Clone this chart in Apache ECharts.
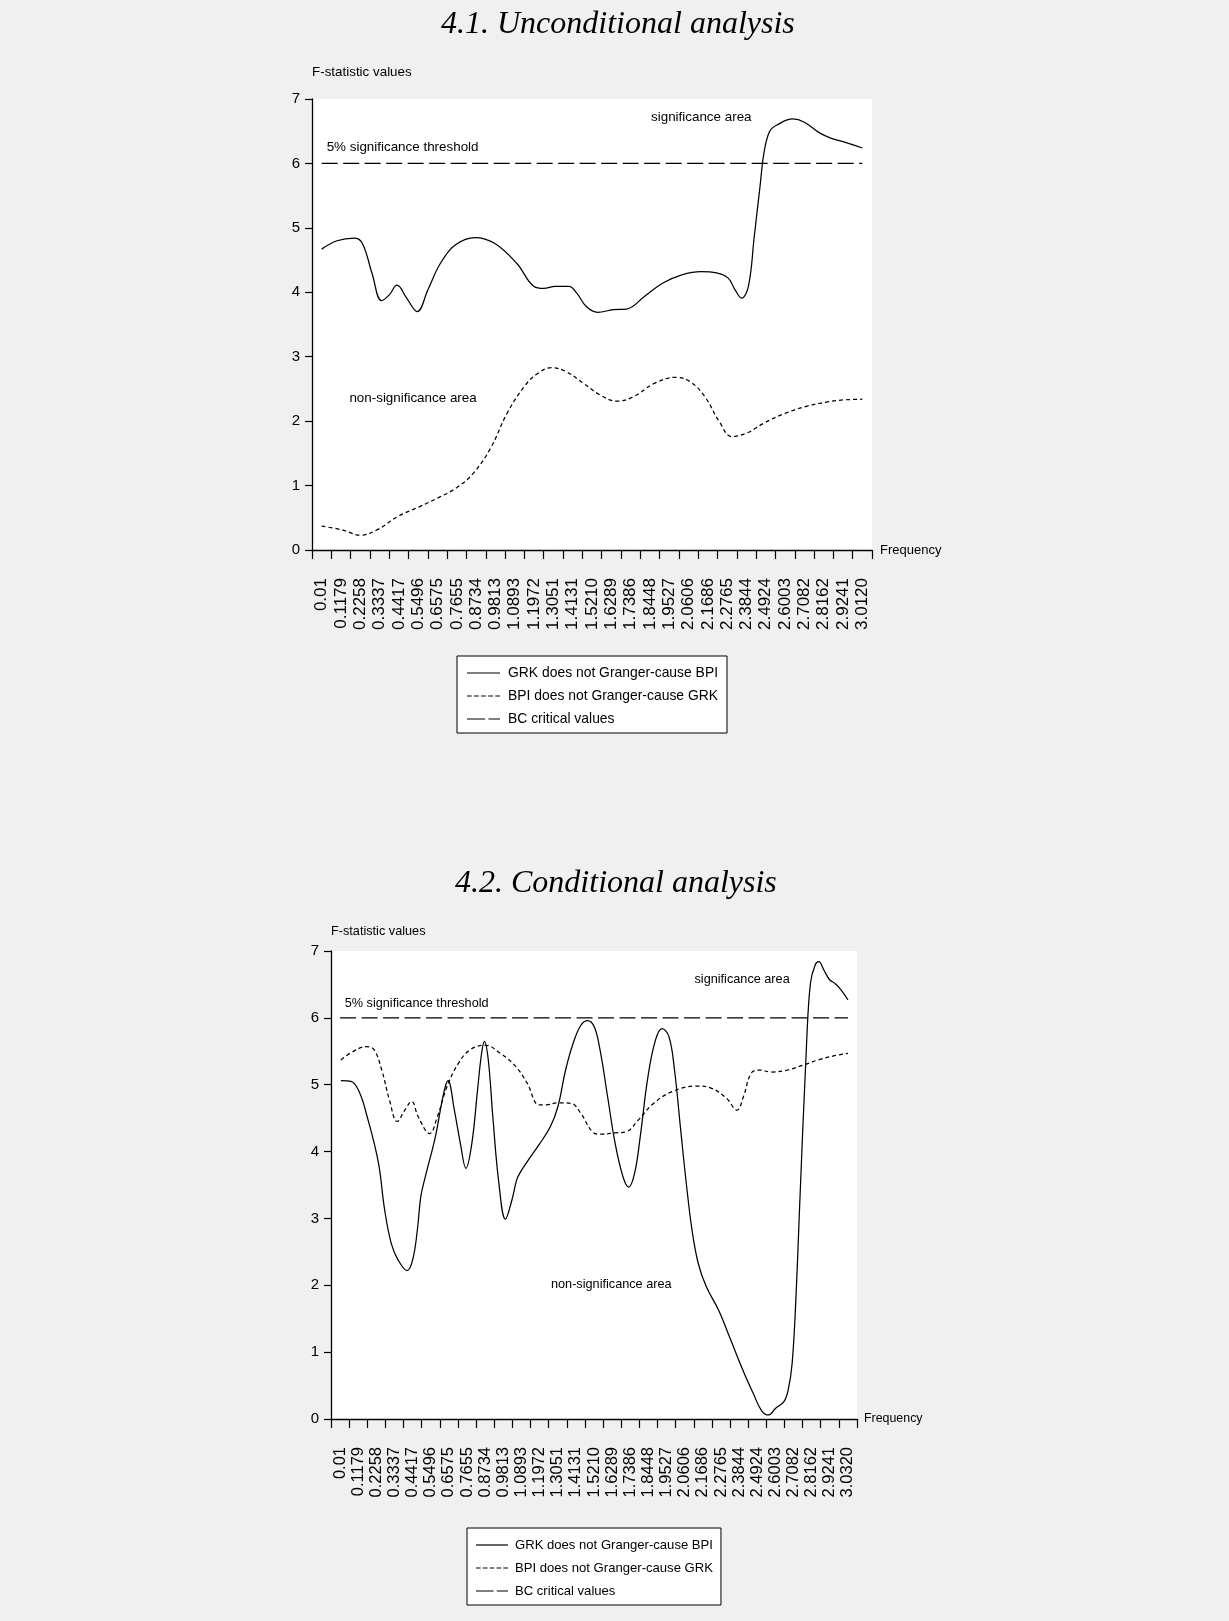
<!DOCTYPE html>
<html>
<head>
<meta charset="utf-8">
<script src="https://cdn.jsdelivr.net/npm/echarts@6/dist/echarts.min.js"></script>
<style>
  html, body { margin: 0; padding: 0; background: #f0f0f0; }
  #chart { width: 1229px; height: 1621px; }
</style>
</head>
<body>
<div id="chart"></div>
<script>
// Frequency tick labels (one band per label on the category axis)
const freqLabelsUncond = ['0.01','0.1179','0.2258','0.3337','0.4417','0.5496','0.6575','0.7655','0.8734','0.9813',
  '1.0893','1.1972','1.3051','1.4131','1.5210','1.6289','1.7386','1.8448','1.9527','2.0606',
  '2.1686','2.2765','2.3844','2.4924','2.6003','2.7082','2.8162','2.9241','3.0120'];
const freqLabelsCond = ['0.01','0.1179','0.2258','0.3337','0.4417','0.5496','0.6575','0.7655','0.8734','0.9813',
  '1.0893','1.1972','1.3051','1.4131','1.5210','1.6289','1.7386','1.8448','1.9527','2.0606',
  '2.1686','2.2765','2.3844','2.4924','2.6003','2.7082','2.8162','2.9241','3.0320'];

// 4.1 Unconditional analysis: [frequency, F-statistic]
const grkToBpiUncond = [
  [0.010,4.67],[0.096,4.80],[0.193,4.84],[0.237,4.76],[0.291,4.30],[0.345,3.87],[0.388,3.96],
  [0.431,4.11],[0.485,3.91],[0.544,3.70],[0.604,4.04],[0.674,4.45],[0.760,4.74],[0.868,4.85],
  [0.976,4.76],[1.100,4.45],[1.197,4.09],[1.251,4.06],[1.316,4.09],[1.392,4.09],[1.435,3.99],
  [1.489,3.78],[1.553,3.69],[1.640,3.73],[1.715,3.74],[1.812,3.93],[1.915,4.14],[2.023,4.27],
  [2.131,4.32],[2.217,4.30],[2.282,4.22],[2.320,4.04],[2.357,3.91],[2.395,4.09],[2.428,4.87],
  [2.460,5.64],[2.482,6.16],[2.514,6.50],[2.557,6.60],[2.643,6.69],[2.708,6.64],[2.795,6.47],
  [2.859,6.39],[2.946,6.32],[3.032,6.24]
];
const bpiToGrkUncond = [
  [0.010,0.37],[0.129,0.31],[0.226,0.23],[0.318,0.31],[0.436,0.52],[0.555,0.67],[0.668,0.82],
  [0.766,0.97],[0.857,1.19],[0.954,1.58],[1.046,2.12],[1.143,2.54],[1.213,2.73],[1.294,2.83],
  [1.375,2.77],[1.472,2.59],[1.564,2.41],[1.661,2.31],[1.753,2.38],[1.872,2.59],[1.991,2.68],
  [2.071,2.61],[2.152,2.38],[2.233,1.99],[2.303,1.76],[2.390,1.82],[2.482,1.97],[2.600,2.12],
  [2.719,2.23],[2.838,2.30],[2.929,2.33],[3.032,2.34]
];
const bcCriticalUncond = [6,6,6,6,6,6,6,6,6,6,6,6,6,6,6,6,6,6,6,6,6,6,6,6,6,6,6,6,6];

// 4.2 Conditional analysis: [frequency, F-statistic]
const grkToBpiCond = [
  [0.015,5.06],[0.075,5.05],[0.123,4.90],[0.166,4.57],[0.237,3.85],[0.274,3.15],[0.314,2.63],
  [0.355,2.38],[0.409,2.22],[0.442,2.38],[0.470,2.83],[0.490,3.32],[0.517,3.62],[0.577,4.22],
  [0.614,4.72],[0.636,4.97],[0.652,5.06],[0.690,4.62],[0.726,4.12],[0.759,3.75],[0.794,4.12],
  [0.828,4.92],[0.852,5.47],[0.869,5.65],[0.892,5.37],[0.919,4.52],[0.954,3.55],[0.994,2.99],
  [1.033,3.28],[1.060,3.57],[1.078,3.67],[1.124,3.85],[1.193,4.10],[1.261,4.37],[1.306,4.67],
  [1.352,5.22],[1.397,5.62],[1.443,5.89],[1.483,5.96],[1.522,5.87],[1.557,5.52],[1.602,4.82],
  [1.647,4.12],[1.694,3.62],[1.727,3.47],[1.762,3.67],[1.796,4.22],[1.842,5.12],[1.887,5.67],
  [1.926,5.84],[1.967,5.72],[2.000,5.22],[2.035,4.37],[2.066,3.62],[2.104,2.83],[2.141,2.33],
  [2.189,1.98],[2.262,1.63],[2.335,1.18],[2.407,0.73],[2.469,0.38],[2.517,0.13],[2.558,0.06],
  [2.602,0.16],[2.651,0.26],[2.676,0.43],[2.700,0.83],[2.723,1.83],[2.743,3.08],[2.786,5.62],
  [2.809,6.52],[2.837,6.79],[2.859,6.84],[2.888,6.72],[2.923,6.57],[2.957,6.51],[2.991,6.42],
  [3.032,6.27]
];
const bpiToGrkCond = [
  [0.015,5.37],[0.076,5.48],[0.168,5.57],[0.213,5.52],[0.258,5.22],[0.304,4.77],[0.350,4.45],
  [0.395,4.62],[0.436,4.75],[0.475,4.52],[0.543,4.27],[0.589,4.52],[0.646,4.97],[0.714,5.32],
  [0.783,5.52],[0.873,5.59],[0.964,5.47],[1.056,5.27],[1.124,5.02],[1.193,4.70],[1.238,4.70],
  [1.306,4.73],[1.386,4.72],[1.443,4.57],[1.510,4.30],[1.557,4.26],[1.647,4.28],[1.716,4.30],
  [1.784,4.47],[1.875,4.72],[1.989,4.90],[2.125,4.98],[2.217,4.95],[2.308,4.80],[2.372,4.62],
  [2.410,4.82],[2.456,5.17],[2.501,5.22],[2.581,5.19],[2.673,5.22],[2.763,5.29],[2.854,5.37],
  [2.946,5.43],[3.032,5.47]
];
const bcCriticalCond = [6,6,6,6,6,6,6,6,6,6,6,6,6,6,6,6,6,6,6,6,6,6,6,6,6,6,6,6,6];

const yTicks = [0, 1, 2, 3, 4, 5, 6, 7];

const NAME_GRK = 'GRK does not Granger-cause BPI';
const NAME_BPI = 'BPI does not Granger-cause GRK';
const NAME_BC = 'BC critical values';

const SANS = "'Liberation Sans', Arial, Helvetica, sans-serif";
const SERIF = "'Liberation Serif', 'Times New Roman', serif";

// hidden frequency axis spans the same bands as the labelled category axis
const bandStep = (3.032 - 0.01) / 28;
const freqMin = 0.01 - bandStep / 2;
const freqMax = 3.032 + bandStep / 2;

const chart = echarts.init(document.getElementById('chart'), null, { renderer: 'canvas' });

function categoryAxis(gridIndex, labels, labelSize, nameSize, nameGap) {
  return {
    type: 'category', gridIndex, data: labels, boundaryGap: true, position: 'bottom',
    name: 'Frequency', nameLocation: 'end', nameGap,
    nameTextStyle: { color: '#000', fontSize: nameSize, fontFamily: SANS, align: 'left', verticalAlign: 'middle' },
    axisLine: { show: true, onZero: false, lineStyle: { color: '#000', width: 1.3 } },
    axisTick: { show: true, inside: false, length: 9, interval: 0, alignWithLabel: false, lineStyle: { color: '#000', width: 1.2 } },
    axisLabel: { show: true, interval: 0, rotate: 90, margin: 28, color: '#000', fontSize: labelSize, fontFamily: SANS, hideOverlap: false },
    splitLine: { show: false }, splitArea: { show: false }
  };
}
function freqAxis(gridIndex) {
  return { type: 'value', gridIndex, min: freqMin, max: freqMax, show: false, splitLine: { show: false } };
}
function valueAxis(gridIndex, nameSize, nameGap, labelSize) {
  return {
    type: 'value', gridIndex, min: yTicks[0], max: yTicks[yTicks.length - 1], interval: 1,
    name: 'F-statistic values', nameLocation: 'end', nameGap,
    nameTextStyle: { color: '#000', fontSize: nameSize, fontFamily: SANS, align: 'left', verticalAlign: 'middle' },
    axisLine: { show: true, onZero: false, lineStyle: { color: '#000', width: 1.3 } },
    axisTick: { show: true, inside: false, length: 7, lineStyle: { color: '#000', width: 1.2 } },
    axisLabel: { show: true, margin: 12, color: '#000', fontSize: labelSize, fontFamily: SANS },
    splitLine: { show: false }
  };
}
function annotations(items, size) {
  return {
    silent: true, symbol: 'circle', symbolSize: 0,
    label: { show: true, position: 'right', distance: 0, color: '#000', fontSize: size, fontFamily: SANS,
      formatter: p => p.name },
    data: items.map(it => ({ name: it[0], coord: [it[1], it[2]] }))
  };
}
function lineSeries(name, xAxisIndex, yAxisIndex, data, dash, extra) {
  return Object.assign({
    name, type: 'line', xAxisIndex, yAxisIndex, data, smooth: 0.4, symbol: 'none', showSymbol: false,
    animation: false, silent: true,
    lineStyle: { color: '#000', width: 1.25, type: dash },
    itemStyle: { color: '#000' }
  }, extra || {});
}
function legendBox(left, top, padding, iconW, textSize, textPad) {
  const solid = 'path://M0,0H' + iconW + 'V1H0Z';
  let short = 'path://';
  for (let i = 0; i < 5; i++) { const s = i * iconW / 4.7; short += 'M' + s.toFixed(2) + ',0H' + (s + iconW / 7).toFixed(2) + 'V1H' + s.toFixed(2) + 'Z'; }
  const longD = 'path://M0,0H' + (iconW * 0.55).toFixed(2) + 'V1H0Z M' + (iconW * 0.65).toFixed(2) + ',0H' + iconW + 'V1H' + (iconW * 0.65).toFixed(2) + 'Z';
  return {
    orient: 'vertical', left, top, padding, itemGap: 7, itemWidth: iconW, itemHeight: 1.2,
    backgroundColor: '#ffffff', borderColor: '#000', borderWidth: 1, borderRadius: 0,
    selectedMode: false, symbolKeepAspect: false,
    itemStyle: { borderWidth: 0, color: '#000' },
    textStyle: { color: '#000', fontSize: textSize, fontFamily: SANS, lineHeight: 16, padding: [0, 0, 0, textPad] },
    data: [
      { name: NAME_GRK, icon: solid },
      { name: NAME_BPI, icon: short },
      { name: NAME_BC, icon: longD }
    ]
  };
}

const option = {
  backgroundColor: '#f0f0f0',
  animation: false,
  title: [
    { text: '4.1. Unconditional analysis', left: 436, top: 4,
      textStyle: { fontFamily: SERIF, fontStyle: 'italic', fontWeight: 'normal', fontSize: 32, color: '#000' } },
    { text: '4.2. Conditional analysis', left: 450, top: 863,
      textStyle: { fontFamily: SERIF, fontStyle: 'italic', fontWeight: 'normal', fontSize: 32, color: '#000' } }
  ],
  grid: [
    { left: 312, top: 99, width: 560, height: 451, show: true, backgroundColor: '#ffffff', borderWidth: 0, containLabel: false, outerBoundsMode: 'none' },
    { left: 331, top: 951, width: 526, height: 468, show: true, backgroundColor: '#ffffff', borderWidth: 0, containLabel: false, outerBoundsMode: 'none' }
  ],
  xAxis: [
    categoryAxis(0, freqLabelsUncond, 17, 13, 8),
    freqAxis(0),
    categoryAxis(1, freqLabelsCond, 16.5, 12.4, 7),
    freqAxis(1)
  ],
  yAxis: [
    valueAxis(0, 13.4, 27, 15),
    valueAxis(1, 12.7, 20, 15)
  ],
  legend: [
    legendBox(457, 656, [9, 9, 6, 10], 33, 13.9, 3),
    legendBox(467, 1528, [9, 8, 6, 9], 32, 13.1, 2)
  ],
  series: [
    lineSeries(NAME_GRK, 1, 0, grkToBpiUncond, 'solid', {
      markPoint: annotations([
        ['5% significance threshold', 0.038, 6.25],
        ['significance area', 1.851, 6.72],
        ['non-significance area', 0.165, 2.36]
      ], 13.4)
    }),
    lineSeries(NAME_BPI, 1, 0, bpiToGrkUncond, [4, 3]),
    lineSeries(NAME_BC, 0, 0, bcCriticalUncond, [16, 5.5], { smooth: false }),
    lineSeries(NAME_GRK, 3, 1, grkToBpiCond, 'solid', {
      markPoint: annotations([
        ['5% significance threshold', 0.0375, 6.22],
        ['significance area', 2.119, 6.58],
        ['non-significance area', 1.265, 2.01]
      ], 12.7)
    }),
    lineSeries(NAME_BPI, 3, 1, bpiToGrkCond, [4, 3]),
    lineSeries(NAME_BC, 2, 1, bcCriticalCond, [16, 5.5], { smooth: false })
  ]
};
chart.setOption(option);
</script>
</body>
</html>
